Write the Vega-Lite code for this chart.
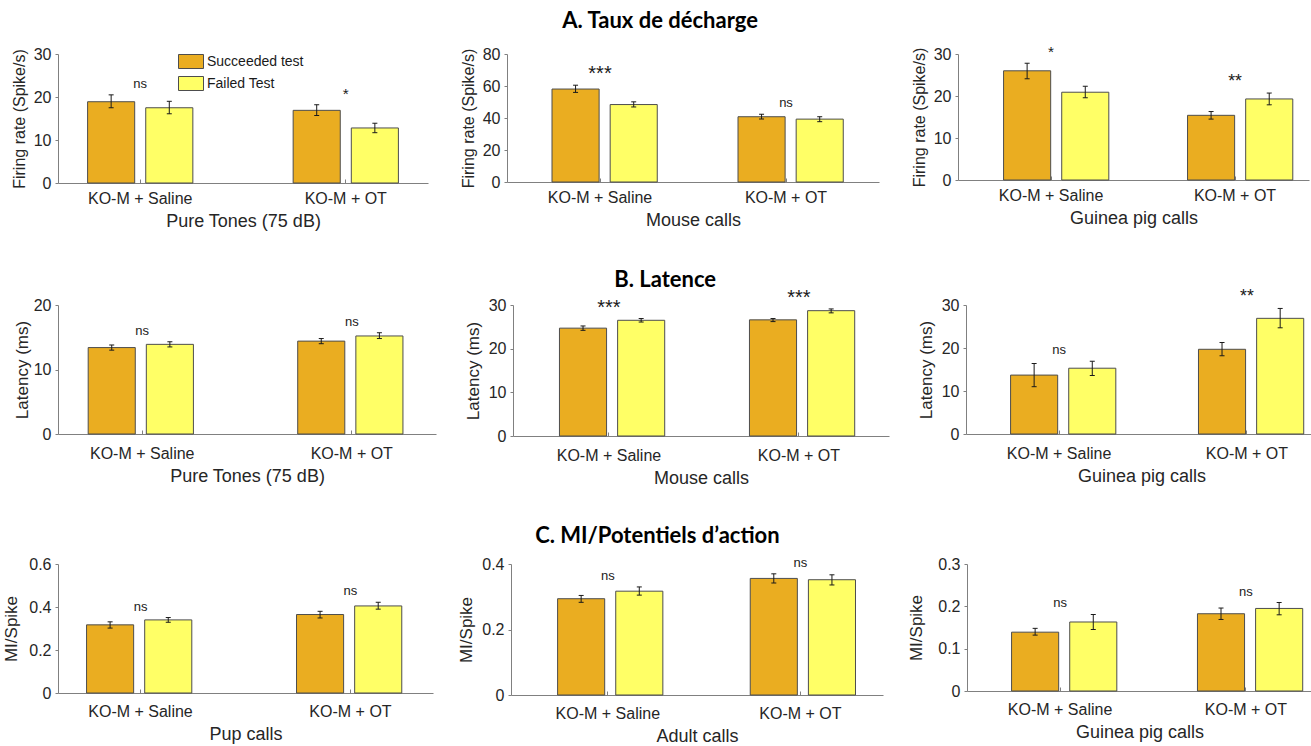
{
  "$schema": "https://vega.github.io/schema/vega-lite/v6.json",
  "padding": {"left": 2, "top": 10, "right": 2, "bottom": 0},
  "background": "white",
  "data": {"values": [
    {"p": "A1", "cond": "KO-M + Saline", "test": "Succeeded test", "value": 18.9, "lo": 17.5, "hi": 20.5, "sig": "ns"},
    {"p": "A1", "cond": "KO-M + Saline", "test": "Failed Test", "value": 17.5, "lo": 16.1, "hi": 19.0, "sig": "ns"},
    {"p": "A1", "cond": "KO-M + OT", "test": "Succeeded test", "value": 16.9, "lo": 15.7, "hi": 18.2, "sig": "*"},
    {"p": "A1", "cond": "KO-M + OT", "test": "Failed Test", "value": 12.8, "lo": 11.7, "hi": 13.9, "sig": "*"},
    {"p": "A2", "cond": "KO-M + Saline", "test": "Succeeded test", "value": 58.1, "lo": 56.0, "hi": 60.5, "sig": "***"},
    {"p": "A2", "cond": "KO-M + Saline", "test": "Failed Test", "value": 48.4, "lo": 46.9, "hi": 50.1, "sig": "***"},
    {"p": "A2", "cond": "KO-M + OT", "test": "Succeeded test", "value": 40.8, "lo": 39.4, "hi": 42.4, "sig": "ns"},
    {"p": "A2", "cond": "KO-M + OT", "test": "Failed Test", "value": 39.3, "lo": 37.7, "hi": 40.8, "sig": "ns"},
    {"p": "A3", "cond": "KO-M + Saline", "test": "Succeeded test", "value": 26.0, "lo": 24.1, "hi": 27.8, "sig": "*"},
    {"p": "A3", "cond": "KO-M + Saline", "test": "Failed Test", "value": 20.9, "lo": 19.6, "hi": 22.3, "sig": "*"},
    {"p": "A3", "cond": "KO-M + OT", "test": "Succeeded test", "value": 15.4, "lo": 14.5, "hi": 16.3, "sig": "**"},
    {"p": "A3", "cond": "KO-M + OT", "test": "Failed Test", "value": 19.3, "lo": 17.9, "hi": 20.7, "sig": "**"},
    {"p": "B1", "cond": "KO-M + Saline", "test": "Succeeded test", "value": 13.4, "lo": 13.0, "hi": 13.8, "sig": "ns"},
    {"p": "B1", "cond": "KO-M + Saline", "test": "Failed Test", "value": 13.9, "lo": 13.5, "hi": 14.3, "sig": "ns"},
    {"p": "B1", "cond": "KO-M + OT", "test": "Succeeded test", "value": 14.4, "lo": 14.0, "hi": 14.8, "sig": "ns"},
    {"p": "B1", "cond": "KO-M + OT", "test": "Failed Test", "value": 15.2, "lo": 14.8, "hi": 15.7, "sig": "ns"},
    {"p": "B2", "cond": "KO-M + Saline", "test": "Succeeded test", "value": 24.7, "lo": 24.2, "hi": 25.2, "sig": "***"},
    {"p": "B2", "cond": "KO-M + Saline", "test": "Failed Test", "value": 26.5, "lo": 26.1, "hi": 26.9, "sig": "***"},
    {"p": "B2", "cond": "KO-M + OT", "test": "Succeeded test", "value": 26.6, "lo": 26.2, "hi": 26.9, "sig": "***"},
    {"p": "B2", "cond": "KO-M + OT", "test": "Failed Test", "value": 28.7, "lo": 28.2, "hi": 29.1, "sig": "***"},
    {"p": "B3", "cond": "KO-M + Saline", "test": "Succeeded test", "value": 13.7, "lo": 11.0, "hi": 16.4, "sig": "ns"},
    {"p": "B3", "cond": "KO-M + Saline", "test": "Failed Test", "value": 15.3, "lo": 13.6, "hi": 16.9, "sig": "ns"},
    {"p": "B3", "cond": "KO-M + OT", "test": "Succeeded test", "value": 19.7, "lo": 18.2, "hi": 21.3, "sig": "**"},
    {"p": "B3", "cond": "KO-M + OT", "test": "Failed Test", "value": 26.9, "lo": 24.7, "hi": 29.2, "sig": "**"},
    {"p": "C1", "cond": "KO-M + Saline", "test": "Succeeded test", "value": 0.317, "lo": 0.302, "hi": 0.331, "sig": "ns"},
    {"p": "C1", "cond": "KO-M + Saline", "test": "Failed Test", "value": 0.340, "lo": 0.329, "hi": 0.351, "sig": "ns"},
    {"p": "C1", "cond": "KO-M + OT", "test": "Succeeded test", "value": 0.365, "lo": 0.349, "hi": 0.380, "sig": "ns"},
    {"p": "C1", "cond": "KO-M + OT", "test": "Failed Test", "value": 0.405, "lo": 0.390, "hi": 0.422, "sig": "ns"},
    {"p": "C2", "cond": "KO-M + Saline", "test": "Succeeded test", "value": 0.294, "lo": 0.283, "hi": 0.304, "sig": "ns"},
    {"p": "C2", "cond": "KO-M + Saline", "test": "Failed Test", "value": 0.317, "lo": 0.305, "hi": 0.330, "sig": "ns"},
    {"p": "C2", "cond": "KO-M + OT", "test": "Succeeded test", "value": 0.356, "lo": 0.342, "hi": 0.370, "sig": "ns"},
    {"p": "C2", "cond": "KO-M + OT", "test": "Failed Test", "value": 0.352, "lo": 0.336, "hi": 0.367, "sig": "ns"},
    {"p": "C3", "cond": "KO-M + Saline", "test": "Succeeded test", "value": 0.139, "lo": 0.132, "hi": 0.148, "sig": "ns"},
    {"p": "C3", "cond": "KO-M + Saline", "test": "Failed Test", "value": 0.163, "lo": 0.145, "hi": 0.181, "sig": "ns"},
    {"p": "C3", "cond": "KO-M + OT", "test": "Succeeded test", "value": 0.1825, "lo": 0.169, "hi": 0.196, "sig": "ns"},
    {"p": "C3", "cond": "KO-M + OT", "test": "Failed Test", "value": 0.195, "lo": 0.180, "hi": 0.209, "sig": "ns"}
  ]},
  "resolve": {"scale": {"color": "independent"}, "legend": {"color": "independent"}},
  "spacing": 38,
  "vconcat": [
    {
      "title": {"text": "A. Taux de décharge", "offset": 12},
      "spacing": 32,
      "resolve": {"scale": {"color": "independent"}, "legend": {"color": "independent"}},
      "hconcat": [
        {
          "width": 370, "height": 129,
          "transform": [{"filter": "datum.p === 'A1'"}],
          "encoding": {"x": {"field": "cond", "type": "nominal", "sort": ["KO-M + Saline", "KO-M + OT"], "scale": {"paddingInner": 0.488, "paddingOuter": 0.144}, "title": "Pure Tones (75 dB)"}},
          "layer": [
            {"mark": {"type": "bar", "stroke": "#4d4d4d", "strokeWidth": 1},
             "encoding": {
               "xOffset": {"field": "test", "type": "nominal", "sort": ["Succeeded test", "Failed Test"], "scale": {"paddingInner": 0.19}},
               "y": {"field": "value", "type": "quantitative", "title": "Firing rate (Spike/s)", "scale": {"domain": [0, 30], "nice": false}, "axis": {"values": [0, 10, 20, 30], "format": "~r", "labelOverlap": false}},
               "color": {"field": "test", "type": "nominal", "sort": ["Succeeded test", "Failed Test"], "scale": {"domain": ["Succeeded test", "Failed Test"], "range": ["#EAAD21", "#FFFF66"]},
                 "legend": {"orient": "none", "legendX": 120, "legendY": -5.5, "title": null, "symbolType": "M-1,-0.56H1V0.56H-1Z", "symbolSize": 625, "symbolStrokeColor": "#4d4d4d", "symbolStrokeWidth": 1, "symbolOpacity": 1, "labelFontSize": 14, "labelFont": "Liberation Sans", "labelColor": "#1a1a1a", "rowPadding": -6, "labelOffset": 3, "padding": 0}}
             }},
            {"mark": {"type": "rule", "color": "#1a1a1a", "strokeWidth": 1},
             "encoding": {"xOffset": {"field": "test", "type": "nominal", "sort": ["Succeeded test", "Failed Test"], "scale": {"paddingInner": 0.19}}, "y": {"field": "lo", "type": "quantitative", "title": "Firing rate (Spike/s)"}, "y2": {"field": "hi"}}},
            {"mark": {"type": "tick", "color": "#1a1a1a", "size": 5, "thickness": 1, "opacity": 1},
             "encoding": {"xOffset": {"field": "test", "type": "nominal", "sort": ["Succeeded test", "Failed Test"], "scale": {"paddingInner": 0.19}}, "y": {"field": "lo", "type": "quantitative", "title": "Firing rate (Spike/s)"}}},
            {"mark": {"type": "tick", "color": "#1a1a1a", "size": 5, "thickness": 1, "opacity": 1},
             "encoding": {"xOffset": {"field": "test", "type": "nominal", "sort": ["Succeeded test", "Failed Test"], "scale": {"paddingInner": 0.19}}, "y": {"field": "hi", "type": "quantitative", "title": "Firing rate (Spike/s)"}}},
            {"transform": [{"aggregate": [{"op": "max", "field": "hi", "as": "top"}], "groupby": ["cond", "sig"]}],
             "mark": {"type": "text", "dy": -11, "color": "#1a1a1a"},
             "encoding": {"y": {"field": "top", "type": "quantitative", "title": "Firing rate (Spike/s)"}, "text": {"field": "sig"}, "size": {"field": "sig", "type": "ordinal", "scale": {"domain": ["ns", "*", "**", "***"], "range": [13, 20, 20, 20]}, "legend": null}}}
          ]
        },
        {
          "width": 372, "height": 128,
          "transform": [{"filter": "datum.p === 'A2'"}],
          "encoding": {"x": {"field": "cond", "type": "nominal", "sort": ["KO-M + Saline", "KO-M + OT"], "scale": {"paddingInner": 0.484, "paddingOuter": 0.242}, "title": "Mouse calls"}},
          "layer": [
            {"mark": {"type": "bar", "stroke": "#4d4d4d", "strokeWidth": 1},
             "encoding": {
               "xOffset": {"field": "test", "type": "nominal", "sort": ["Succeeded test", "Failed Test"], "scale": {"paddingInner": 0.206}},
               "y": {"field": "value", "type": "quantitative", "title": "Firing rate (Spike/s)", "scale": {"domain": [0, 80], "nice": false}, "axis": {"values": [0, 20, 40, 60, 80], "format": "~r", "labelOverlap": false, "labelBound": false, "labelSeparation": 0}},
               "color": {"field": "test", "type": "nominal", "sort": ["Succeeded test", "Failed Test"], "scale": {"domain": ["Succeeded test", "Failed Test"], "range": ["#EAAD21", "#FFFF66"]}, "legend": null}
             }},
            {"mark": {"type": "rule", "color": "#1a1a1a", "strokeWidth": 1},
             "encoding": {"xOffset": {"field": "test", "type": "nominal", "sort": ["Succeeded test", "Failed Test"], "scale": {"paddingInner": 0.206}}, "y": {"field": "lo", "type": "quantitative", "title": "Firing rate (Spike/s)", "axis": {"values": [0, 20, 40, 60, 80], "format": "~r", "labelOverlap": false}}, "y2": {"field": "hi"}}},
            {"mark": {"type": "tick", "color": "#1a1a1a", "size": 5, "thickness": 1, "opacity": 1},
             "encoding": {"xOffset": {"field": "test", "type": "nominal", "sort": ["Succeeded test", "Failed Test"], "scale": {"paddingInner": 0.206}}, "y": {"field": "lo", "type": "quantitative", "title": "Firing rate (Spike/s)", "axis": {"values": [0, 20, 40, 60, 80], "format": "~r", "labelOverlap": false}}}},
            {"mark": {"type": "tick", "color": "#1a1a1a", "size": 5, "thickness": 1, "opacity": 1},
             "encoding": {"xOffset": {"field": "test", "type": "nominal", "sort": ["Succeeded test", "Failed Test"], "scale": {"paddingInner": 0.206}}, "y": {"field": "hi", "type": "quantitative", "title": "Firing rate (Spike/s)", "axis": {"values": [0, 20, 40, 60, 80], "format": "~r", "labelOverlap": false}}}},
            {"transform": [{"aggregate": [{"op": "max", "field": "hi", "as": "top"}], "groupby": ["cond", "sig"]}],
             "mark": {"type": "text", "dy": -11, "color": "#1a1a1a"},
             "encoding": {"y": {"field": "top", "type": "quantitative", "title": "Firing rate (Spike/s)", "axis": {"values": [0, 20, 40, 60, 80], "format": "~r", "labelOverlap": false}}, "text": {"field": "sig"}, "size": {"field": "sig", "type": "ordinal", "scale": {"domain": ["ns", "*", "**", "***"], "range": [13, 20, 20, 20]}, "legend": null}}}
          ]
        },
        {
          "width": 351, "height": 126,
          "transform": [{"filter": "datum.p === 'A3'"}],
          "encoding": {"x": {"field": "cond", "type": "nominal", "sort": ["KO-M + Saline", "KO-M + OT"], "scale": {"paddingInner": 0.484, "paddingOuter": 0.196, "align": 0.632}, "title": "Guinea pig calls"}},
          "layer": [
            {"mark": {"type": "bar", "stroke": "#4d4d4d", "strokeWidth": 1},
             "encoding": {
               "xOffset": {"field": "test", "type": "nominal", "sort": ["Succeeded test", "Failed Test"], "scale": {"paddingInner": 0.2}},
               "y": {"field": "value", "type": "quantitative", "title": "Firing rate (Spike/s)", "scale": {"domain": [0, 30], "nice": false}, "axis": {"values": [0, 10, 20, 30], "format": "~r", "labelOverlap": false}},
               "color": {"field": "test", "type": "nominal", "sort": ["Succeeded test", "Failed Test"], "scale": {"domain": ["Succeeded test", "Failed Test"], "range": ["#EAAD21", "#FFFF66"]}, "legend": null}
             }},
            {"mark": {"type": "rule", "color": "#1a1a1a", "strokeWidth": 1},
             "encoding": {"xOffset": {"field": "test", "type": "nominal", "sort": ["Succeeded test", "Failed Test"], "scale": {"paddingInner": 0.2}}, "y": {"field": "lo", "type": "quantitative", "title": "Firing rate (Spike/s)"}, "y2": {"field": "hi"}}},
            {"mark": {"type": "tick", "color": "#1a1a1a", "size": 5, "thickness": 1, "opacity": 1},
             "encoding": {"xOffset": {"field": "test", "type": "nominal", "sort": ["Succeeded test", "Failed Test"], "scale": {"paddingInner": 0.2}}, "y": {"field": "lo", "type": "quantitative", "title": "Firing rate (Spike/s)"}}},
            {"mark": {"type": "tick", "color": "#1a1a1a", "size": 5, "thickness": 1, "opacity": 1},
             "encoding": {"xOffset": {"field": "test", "type": "nominal", "sort": ["Succeeded test", "Failed Test"], "scale": {"paddingInner": 0.2}}, "y": {"field": "hi", "type": "quantitative", "title": "Firing rate (Spike/s)"}}},
            {"transform": [{"aggregate": [{"op": "max", "field": "hi", "as": "top"}], "groupby": ["cond", "sig"]}],
             "mark": {"type": "text", "dy": -11, "color": "#1a1a1a"},
             "encoding": {"y": {"field": "top", "type": "quantitative", "title": "Firing rate (Spike/s)"}, "text": {"field": "sig"}, "size": {"field": "sig", "type": "ordinal", "scale": {"domain": ["ns", "*", "**", "***"], "range": [13, 20, 20, 20]}, "legend": null}}}
          ]
        }
      ]
    },
    {
      "title": {"text": "B. Latence", "offset": -4},
      "spacing": 28,
      "resolve": {"scale": {"color": "independent"}, "legend": {"color": "independent"}},
      "hconcat": [
        {
          "width": 378, "height": 129,
          "transform": [{"filter": "datum.p === 'B1'"}],
          "encoding": {"x": {"field": "cond", "type": "nominal", "sort": ["KO-M + Saline", "KO-M + OT"], "scale": {"paddingInner": 0.484, "paddingOuter": 0.144}, "title": "Pure Tones (75 dB)", "axis": {"labelPadding": 15}}},
          "layer": [
            {"mark": {"type": "bar", "stroke": "#4d4d4d", "strokeWidth": 1},
             "encoding": {
               "xOffset": {"field": "test", "type": "nominal", "sort": ["Succeeded test", "Failed Test"], "scale": {"paddingInner": 0.185}},
               "y": {"field": "value", "type": "quantitative", "title": "Latency (ms)", "scale": {"domain": [0, 20], "nice": false}, "axis": {"values": [0, 10, 20], "format": "~r", "titlePadding": 2, "titleFontSize": 17, "labelOverlap": false}},
               "color": {"field": "test", "type": "nominal", "sort": ["Succeeded test", "Failed Test"], "scale": {"domain": ["Succeeded test", "Failed Test"], "range": ["#EAAD21", "#FFFF66"]}, "legend": null}
             }},
            {"mark": {"type": "rule", "color": "#1a1a1a", "strokeWidth": 1},
             "encoding": {"xOffset": {"field": "test", "type": "nominal", "sort": ["Succeeded test", "Failed Test"], "scale": {"paddingInner": 0.185}}, "y": {"field": "lo", "type": "quantitative", "title": "Latency (ms)"}, "y2": {"field": "hi"}}},
            {"mark": {"type": "tick", "color": "#1a1a1a", "size": 5, "thickness": 1, "opacity": 1},
             "encoding": {"xOffset": {"field": "test", "type": "nominal", "sort": ["Succeeded test", "Failed Test"], "scale": {"paddingInner": 0.185}}, "y": {"field": "lo", "type": "quantitative", "title": "Latency (ms)"}}},
            {"mark": {"type": "tick", "color": "#1a1a1a", "size": 5, "thickness": 1, "opacity": 1},
             "encoding": {"xOffset": {"field": "test", "type": "nominal", "sort": ["Succeeded test", "Failed Test"], "scale": {"paddingInner": 0.185}}, "y": {"field": "hi", "type": "quantitative", "title": "Latency (ms)"}}},
            {"transform": [{"aggregate": [{"op": "max", "field": "hi", "as": "top"}], "groupby": ["cond", "sig"]}],
             "mark": {"type": "text", "dy": -11, "color": "#1a1a1a"},
             "encoding": {"y": {"field": "top", "type": "quantitative", "title": "Latency (ms)"}, "text": {"field": "sig"}, "size": {"field": "sig", "type": "ordinal", "scale": {"domain": ["ns", "*", "**", "***"], "range": [13, 20, 20, 20]}, "legend": null}}}
          ]
        },
        {
          "width": 376, "height": 131,
          "transform": [{"filter": "datum.p === 'B2'"}],
          "encoding": {"x": {"field": "cond", "type": "nominal", "sort": ["KO-M + Saline", "KO-M + OT"], "scale": {"paddingInner": 0.479, "paddingOuter": 0.229, "align": 0.534}, "title": "Mouse calls", "axis": {"labelPadding": 15}}},
          "layer": [
            {"mark": {"type": "bar", "stroke": "#4d4d4d", "strokeWidth": 1},
             "encoding": {
               "xOffset": {"field": "test", "type": "nominal", "sort": ["Succeeded test", "Failed Test"], "scale": {"paddingInner": 0.2}},
               "y": {"field": "value", "type": "quantitative", "title": "Latency (ms)", "scale": {"domain": [0, 30], "nice": false}, "axis": {"values": [0, 10, 20, 30], "format": "~r", "titleFontSize": 17, "labelOverlap": false}},
               "color": {"field": "test", "type": "nominal", "sort": ["Succeeded test", "Failed Test"], "scale": {"domain": ["Succeeded test", "Failed Test"], "range": ["#EAAD21", "#FFFF66"]}, "legend": null}
             }},
            {"mark": {"type": "rule", "color": "#1a1a1a", "strokeWidth": 1},
             "encoding": {"xOffset": {"field": "test", "type": "nominal", "sort": ["Succeeded test", "Failed Test"], "scale": {"paddingInner": 0.2}}, "y": {"field": "lo", "type": "quantitative", "title": "Latency (ms)"}, "y2": {"field": "hi"}}},
            {"mark": {"type": "tick", "color": "#1a1a1a", "size": 5, "thickness": 1, "opacity": 1},
             "encoding": {"xOffset": {"field": "test", "type": "nominal", "sort": ["Succeeded test", "Failed Test"], "scale": {"paddingInner": 0.2}}, "y": {"field": "lo", "type": "quantitative", "title": "Latency (ms)"}}},
            {"mark": {"type": "tick", "color": "#1a1a1a", "size": 5, "thickness": 1, "opacity": 1},
             "encoding": {"xOffset": {"field": "test", "type": "nominal", "sort": ["Succeeded test", "Failed Test"], "scale": {"paddingInner": 0.2}}, "y": {"field": "hi", "type": "quantitative", "title": "Latency (ms)"}}},
            {"transform": [{"aggregate": [{"op": "max", "field": "hi", "as": "top"}], "groupby": ["cond", "sig"]}],
             "mark": {"type": "text", "dy": -11, "color": "#1a1a1a"},
             "encoding": {"y": {"field": "top", "type": "quantitative", "title": "Latency (ms)"}, "text": {"field": "sig"}, "size": {"field": "sig", "type": "ordinal", "scale": {"domain": ["ns", "*", "**", "***"], "range": [13, 20, 20, 20]}, "legend": null}}}
          ]
        },
        {
          "width": 351, "height": 129,
          "transform": [{"filter": "datum.p === 'B3'"}],
          "encoding": {"x": {"field": "cond", "type": "nominal", "sort": ["KO-M + Saline", "KO-M + OT"], "scale": {"paddingInner": 0.484, "paddingOuter": 0.176, "align": 0.674}, "title": "Guinea pig calls", "axis": {"labelPadding": 15}}},
          "layer": [
            {"mark": {"type": "bar", "stroke": "#4d4d4d", "strokeWidth": 1},
             "encoding": {
               "xOffset": {"field": "test", "type": "nominal", "sort": ["Succeeded test", "Failed Test"], "scale": {"paddingInner": 0.204}},
               "y": {"field": "value", "type": "quantitative", "title": "Latency (ms)", "scale": {"domain": [0, 30], "nice": false}, "axis": {"values": [0, 10, 20, 30], "format": "~r", "titleFontSize": 17, "labelOverlap": false}},
               "color": {"field": "test", "type": "nominal", "sort": ["Succeeded test", "Failed Test"], "scale": {"domain": ["Succeeded test", "Failed Test"], "range": ["#EAAD21", "#FFFF66"]}, "legend": null}
             }},
            {"mark": {"type": "rule", "color": "#1a1a1a", "strokeWidth": 1},
             "encoding": {"xOffset": {"field": "test", "type": "nominal", "sort": ["Succeeded test", "Failed Test"], "scale": {"paddingInner": 0.204}}, "y": {"field": "lo", "type": "quantitative", "title": "Latency (ms)"}, "y2": {"field": "hi"}}},
            {"mark": {"type": "tick", "color": "#1a1a1a", "size": 5, "thickness": 1, "opacity": 1},
             "encoding": {"xOffset": {"field": "test", "type": "nominal", "sort": ["Succeeded test", "Failed Test"], "scale": {"paddingInner": 0.204}}, "y": {"field": "lo", "type": "quantitative", "title": "Latency (ms)"}}},
            {"mark": {"type": "tick", "color": "#1a1a1a", "size": 5, "thickness": 1, "opacity": 1},
             "encoding": {"xOffset": {"field": "test", "type": "nominal", "sort": ["Succeeded test", "Failed Test"], "scale": {"paddingInner": 0.204}}, "y": {"field": "hi", "type": "quantitative", "title": "Latency (ms)"}}},
            {"transform": [{"aggregate": [{"op": "max", "field": "hi", "as": "top"}], "groupby": ["cond", "sig"]}],
             "mark": {"type": "text", "dy": -11, "color": "#1a1a1a"},
             "encoding": {"y": {"field": "top", "type": "quantitative", "title": "Latency (ms)"}, "text": {"field": "sig"}, "size": {"field": "sig", "type": "ordinal", "scale": {"domain": ["ns", "*", "**", "***"], "range": [13, 20, 20, 20]}, "legend": null}}}
          ]
        }
      ]
    },
    {
      "title": {"text": "C. MI/Potentiels d’action", "offset": 8},
      "spacing": 24,
      "resolve": {"scale": {"color": "independent"}, "legend": {"color": "independent"}},
      "hconcat": [
        {
          "width": 375, "height": 129,
          "transform": [{"filter": "datum.p === 'C1'"}],
          "encoding": {"x": {"field": "cond", "type": "nominal", "sort": ["KO-M + Saline", "KO-M + OT"], "scale": {"paddingInner": 0.486, "paddingOuter": 0.136}, "title": "Pup calls", "axis": {"labelPadding": 14}}},
          "layer": [
            {"mark": {"type": "bar", "stroke": "#4d4d4d", "strokeWidth": 1},
             "encoding": {
               "xOffset": {"field": "test", "type": "nominal", "sort": ["Succeeded test", "Failed Test"], "scale": {"paddingInner": 0.185}},
               "y": {"field": "value", "type": "quantitative", "title": "MI/Spike", "scale": {"domain": [0, 0.6], "nice": false}, "axis": {"values": [0, 0.2, 0.4, 0.6], "format": "~r", "titlePadding": 8, "titleFontSize": 17, "labelOverlap": false}},
               "color": {"field": "test", "type": "nominal", "sort": ["Succeeded test", "Failed Test"], "scale": {"domain": ["Succeeded test", "Failed Test"], "range": ["#EAAD21", "#FFFF66"]}, "legend": null}
             }},
            {"mark": {"type": "rule", "color": "#1a1a1a", "strokeWidth": 1},
             "encoding": {"xOffset": {"field": "test", "type": "nominal", "sort": ["Succeeded test", "Failed Test"], "scale": {"paddingInner": 0.185}}, "y": {"field": "lo", "type": "quantitative", "title": "MI/Spike"}, "y2": {"field": "hi"}}},
            {"mark": {"type": "tick", "color": "#1a1a1a", "size": 5, "thickness": 1, "opacity": 1},
             "encoding": {"xOffset": {"field": "test", "type": "nominal", "sort": ["Succeeded test", "Failed Test"], "scale": {"paddingInner": 0.185}}, "y": {"field": "lo", "type": "quantitative", "title": "MI/Spike"}}},
            {"mark": {"type": "tick", "color": "#1a1a1a", "size": 5, "thickness": 1, "opacity": 1},
             "encoding": {"xOffset": {"field": "test", "type": "nominal", "sort": ["Succeeded test", "Failed Test"], "scale": {"paddingInner": 0.185}}, "y": {"field": "hi", "type": "quantitative", "title": "MI/Spike"}}},
            {"transform": [{"aggregate": [{"op": "max", "field": "hi", "as": "top"}], "groupby": ["cond", "sig"]}],
             "mark": {"type": "text", "dy": -11, "color": "#1a1a1a"},
             "encoding": {"y": {"field": "top", "type": "quantitative", "title": "MI/Spike"}, "text": {"field": "sig"}, "size": {"field": "sig", "type": "ordinal", "scale": {"domain": ["ns", "*", "**", "***"], "range": [13, 20, 20, 20]}, "legend": null}}}
          ]
        },
        {
          "width": 372, "height": 131,
          "transform": [{"filter": "datum.p === 'C2'"}],
          "encoding": {"x": {"field": "cond", "type": "nominal", "sort": ["KO-M + Saline", "KO-M + OT"], "scale": {"paddingInner": 0.479, "paddingOuter": 0.205, "align": 0.59}, "title": "Adult calls", "axis": {"labelPadding": 14}}},
          "layer": [
            {"mark": {"type": "bar", "stroke": "#4d4d4d", "strokeWidth": 1},
             "encoding": {
               "xOffset": {"field": "test", "type": "nominal", "sort": ["Succeeded test", "Failed Test"], "scale": {"paddingInner": 0.2}},
               "y": {"field": "value", "type": "quantitative", "title": "MI/Spike", "scale": {"domain": [0, 0.4], "nice": false}, "axis": {"values": [0, 0.2, 0.4], "format": "~r", "titleFontSize": 17, "labelOverlap": false}},
               "color": {"field": "test", "type": "nominal", "sort": ["Succeeded test", "Failed Test"], "scale": {"domain": ["Succeeded test", "Failed Test"], "range": ["#EAAD21", "#FFFF66"]}, "legend": null}
             }},
            {"mark": {"type": "rule", "color": "#1a1a1a", "strokeWidth": 1},
             "encoding": {"xOffset": {"field": "test", "type": "nominal", "sort": ["Succeeded test", "Failed Test"], "scale": {"paddingInner": 0.2}}, "y": {"field": "lo", "type": "quantitative", "title": "MI/Spike"}, "y2": {"field": "hi"}}},
            {"mark": {"type": "tick", "color": "#1a1a1a", "size": 5, "thickness": 1, "opacity": 1},
             "encoding": {"xOffset": {"field": "test", "type": "nominal", "sort": ["Succeeded test", "Failed Test"], "scale": {"paddingInner": 0.2}}, "y": {"field": "lo", "type": "quantitative", "title": "MI/Spike"}}},
            {"mark": {"type": "tick", "color": "#1a1a1a", "size": 5, "thickness": 1, "opacity": 1},
             "encoding": {"xOffset": {"field": "test", "type": "nominal", "sort": ["Succeeded test", "Failed Test"], "scale": {"paddingInner": 0.2}}, "y": {"field": "hi", "type": "quantitative", "title": "MI/Spike"}}},
            {"transform": [{"aggregate": [{"op": "max", "field": "hi", "as": "top"}], "groupby": ["cond", "sig"]}],
             "mark": {"type": "text", "dy": -11, "color": "#1a1a1a"},
             "encoding": {"y": {"field": "top", "type": "quantitative", "title": "MI/Spike"}, "text": {"field": "sig"}, "size": {"field": "sig", "type": "ordinal", "scale": {"domain": ["ns", "*", "**", "***"], "range": [13, 20, 20, 20]}, "legend": null}}}
          ]
        },
        {
          "width": 345, "height": 127,
          "transform": [{"filter": "datum.p === 'C3'"}],
          "encoding": {"x": {"field": "cond", "type": "nominal", "sort": ["KO-M + Saline", "KO-M + OT"], "scale": {"paddingInner": 0.478, "paddingOuter": 0.167, "align": 0.718}, "title": "Guinea pig calls", "axis": {"labelPadding": 14}}},
          "layer": [
            {"mark": {"type": "bar", "stroke": "#4d4d4d", "strokeWidth": 1},
             "encoding": {
               "xOffset": {"field": "test", "type": "nominal", "sort": ["Succeeded test", "Failed Test"], "scale": {"paddingInner": 0.2}},
               "y": {"field": "value", "type": "quantitative", "title": "MI/Spike", "scale": {"domain": [0, 0.3], "nice": false}, "axis": {"values": [0, 0.1, 0.2, 0.3], "format": "~r", "titlePadding": 12, "titleFontSize": 17, "labelOverlap": false}},
               "color": {"field": "test", "type": "nominal", "sort": ["Succeeded test", "Failed Test"], "scale": {"domain": ["Succeeded test", "Failed Test"], "range": ["#EAAD21", "#FFFF66"]}, "legend": null}
             }},
            {"mark": {"type": "rule", "color": "#1a1a1a", "strokeWidth": 1},
             "encoding": {"xOffset": {"field": "test", "type": "nominal", "sort": ["Succeeded test", "Failed Test"], "scale": {"paddingInner": 0.2}}, "y": {"field": "lo", "type": "quantitative", "title": "MI/Spike"}, "y2": {"field": "hi"}}},
            {"mark": {"type": "tick", "color": "#1a1a1a", "size": 5, "thickness": 1, "opacity": 1},
             "encoding": {"xOffset": {"field": "test", "type": "nominal", "sort": ["Succeeded test", "Failed Test"], "scale": {"paddingInner": 0.2}}, "y": {"field": "lo", "type": "quantitative", "title": "MI/Spike"}}},
            {"mark": {"type": "tick", "color": "#1a1a1a", "size": 5, "thickness": 1, "opacity": 1},
             "encoding": {"xOffset": {"field": "test", "type": "nominal", "sort": ["Succeeded test", "Failed Test"], "scale": {"paddingInner": 0.2}}, "y": {"field": "hi", "type": "quantitative", "title": "MI/Spike"}}},
            {"transform": [{"aggregate": [{"op": "max", "field": "hi", "as": "top"}], "groupby": ["cond", "sig"]}],
             "mark": {"type": "text", "dy": -11, "color": "#1a1a1a"},
             "encoding": {"y": {"field": "top", "type": "quantitative", "title": "MI/Spike"}, "text": {"field": "sig"}, "size": {"field": "sig", "type": "ordinal", "scale": {"domain": ["ns", "*", "**", "***"], "range": [13, 20, 20, 20]}, "legend": null}}}
          ]
        }
      ]
    }
  ],
  "config": {
    "font": "Liberation Sans",
    "view": {"stroke": null},
    "axis": {"labelFont": "Liberation Sans", "labelFontSize": 16, "labelColor": "#262626", "titleFont": "Liberation Sans", "titleFontSize": 16, "titleFontWeight": "normal", "titleColor": "#262626", "domainColor": "#808080", "tickColor": "#808080", "grid": false, "labelOverlap": false},
    "axisX": {"labelAngle": 0, "tickSize": -4, "labelPadding": 11, "titlePadding": 6, "domainWidth": 1.2, "titleFontSize": 18},
    "axisY": {"tickSize": 3, "labelPadding": 4, "titlePadding": 6},
    "title": {"font": "Lato", "fontSize": 22, "fontWeight": "bold", "color": "#000000", "anchor": "middle"}
  }
}
